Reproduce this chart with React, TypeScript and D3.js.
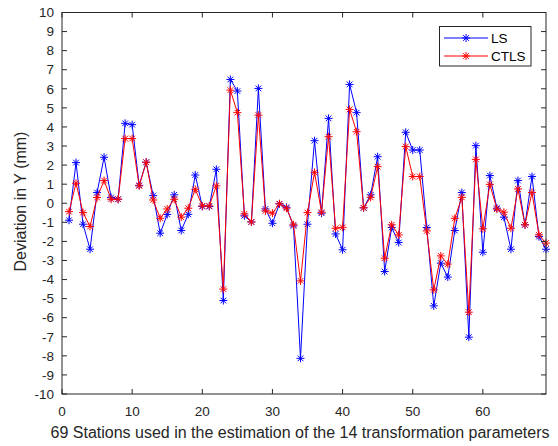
import React from "react";
import * as d3 from "d3";

const stations = d3.range(1, 70);
const lsValues = [
  -0.89, 2.13, -1.10, -2.41, 0.56, 2.41, 0.30, 0.21, 4.19, 4.12,
  0.94, 2.15, 0.40, -1.57, -0.59, 0.44, -1.43, -0.58, 1.48, -0.17,
  -0.17, 1.78, -5.10, 6.49, 5.88, -0.66, -0.98, 6.02, -0.30, -1.05,
  -0.03, -0.21, -1.19, -8.13, -1.10, 3.28, -0.52, 4.45, -1.61, -2.44,
  6.23, 4.75, -0.24, 0.44, 2.44, -3.58, -1.27, -2.06, 3.72, 2.79,
  2.79, -1.27, -5.38, -3.14, -3.87, -1.43, 0.56, -7.02, 3.02, -2.57,
  1.45, -0.26, -0.73, -2.41, 1.19, -1.13, 1.40, -1.75, -2.41,
];
const ctlsValues = [
  -0.44, 1.05, -0.49, -1.22, 0.30, 1.19, 0.21, 0.21, 3.39, 3.39,
  0.91, 2.15, 0.17, -0.79, -0.30, 0.21, -0.73, -0.26, 0.73, -0.14,
  -0.14, 0.91, -4.50, 5.93, 4.75, -0.56, -0.98, 4.62, -0.40, -0.52,
  -0.03, -0.26, -1.13, -4.07, -0.49, 1.62, -0.47, 3.49, -1.31, -1.26,
  4.92, 3.75, -0.24, 0.31, 1.92, -2.88, -1.13, -1.66, 2.97, 1.40,
  1.40, -1.45, -4.54, -2.76, -3.19, -0.79, 0.31, -5.71, 2.30, -1.34,
  0.99, -0.31, -0.47, -1.31, 0.75, -1.13, 0.56, -1.66, -2.09,
];
const xTicks = [0, 10, 20, 30, 40, 50, 60];
const yTicks = d3.range(-10, 11);
const seriesNames = ["LS", "CTLS"];
const seriesColors = ["#0000ff", "#ff0000"];
const xLabel = "69 Stations used in the estimation of the 14 transformation parameters";
const yLabel = "Deviation in Y (mm)";

const W = 558;
const H = 446;
const M = { left: 62, right: 546, top: 12.5, bottom: 394 };
const FONT = "'Liberation Sans', Arial, Helvetica, sans-serif";
const AXIS = "#262626";

function starPath(cx: number, cy: number, r: number) {
  const d = r * 0.7071;
  return `M${cx - r},${cy}L${cx + r},${cy}M${cx},${cy - r}L${cx},${cy + r}` +
    `M${cx - d},${cy - d}L${cx + d},${cy + d}M${cx - d},${cy + d}L${cx + d},${cy - d}`;
}

export default function App() {
  const x = d3.scaleLinear().domain([0, 69]).range([M.left, M.right]);
  const y = d3.scaleLinear().domain([-10, 10]).range([M.bottom, M.top]);
  const line = d3
    .line<number>()
    .x((_, i) => x(stations[i]))
    .y((v) => y(v));
  const series = [lsValues, ctlsValues];
  const tl = 5;

  return (
    <svg width={W} height={H} style={{ position: "absolute", left: 0, top: 0 }}>
      <rect x={0} y={0} width={W} height={H} fill="#fff" />
      {series.map((vals, si) => (
        <g key={si}>
          <path d={line(vals) || ""} fill="none" stroke={seriesColors[si]} strokeWidth={1} />
          {vals.map((v, i) => (
            <path key={i} d={starPath(x(stations[i]), y(v), 4)} stroke={seriesColors[si]} strokeWidth={1} fill="none" />
          ))}
        </g>
      ))}
      <rect x={M.left} y={M.top} width={M.right - M.left} height={M.bottom - M.top} fill="none" stroke={AXIS} strokeWidth={1} />
      {xTicks.map((t) => (
        <g key={"x" + t}>
          <line x1={x(t)} x2={x(t)} y1={M.bottom} y2={M.bottom - tl} stroke={AXIS} />
          <line x1={x(t)} x2={x(t)} y1={M.top} y2={M.top + tl} stroke={AXIS} />
          <text x={x(t)} y={M.bottom + 22} textAnchor="middle" fontSize={13.5} fontFamily={FONT} fill={AXIS}>
            {t}
          </text>
        </g>
      ))}
      {yTicks.map((t) => (
        <g key={"y" + t}>
          <line x1={M.left} x2={M.left + tl} y1={y(t)} y2={y(t)} stroke={AXIS} />
          <line x1={M.right} x2={M.right - tl} y1={y(t)} y2={y(t)} stroke={AXIS} />
          <text x={M.left - 8} y={y(t)} dy="0.35em" textAnchor="end" fontSize={13.5} fontFamily={FONT} fill={AXIS}>
            {t}
          </text>
        </g>
      ))}
      <text x={300} y={438} textAnchor="middle" fontSize={16} fontFamily={FONT} fill={AXIS}>
        {xLabel}
      </text>
      <text
        transform={`translate(26, 201.5) rotate(-90)`}
        textAnchor="middle"
        fontSize={16}
        fontFamily={FONT}
        fill={AXIS}
      >
        {yLabel}
      </text>
      <g>
        <rect x={439.5} y={26.5} width={91.5} height={39.5} fill="#fff" stroke={AXIS} strokeWidth={1} />
        {seriesNames.map((n, i) => {
          const ly = 38 + i * 18;
          return (
            <g key={n}>
              <line x1={444} x2={488} y1={ly} y2={ly} stroke={seriesColors[i]} strokeWidth={1} />
              <path d={starPath(466, ly, 4)} stroke={seriesColors[i]} strokeWidth={1} fill="none" />
              <text x={491} y={ly} dy="0.35em" fontSize={13.5} fontFamily={FONT} fill="#000">
                {n}
              </text>
            </g>
          );
        })}
      </g>
    </svg>
  );
}
